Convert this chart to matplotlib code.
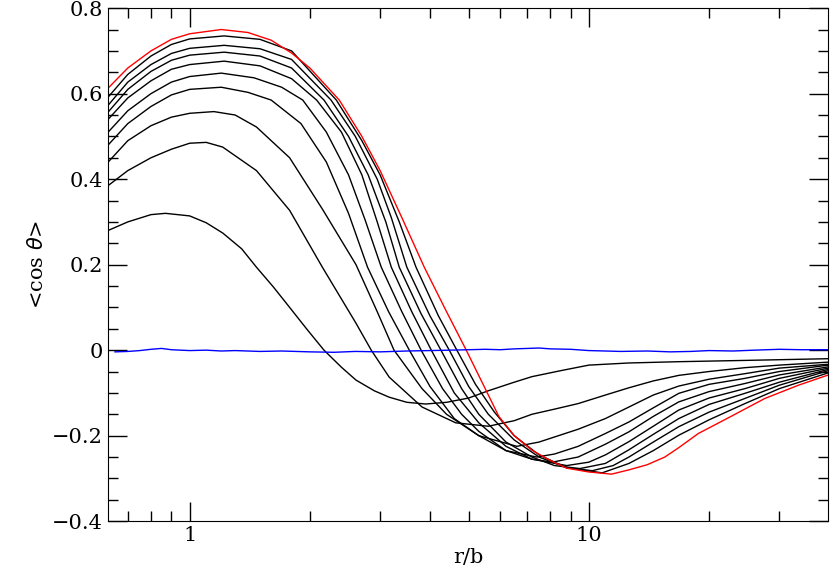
import matplotlib
matplotlib.use("Agg")
import matplotlib.pyplot as plt
from matplotlib.ticker import FixedLocator, MultipleLocator, NullFormatter

c1 = [(0.625, .28), (0.7, .30), (0.8, .317), (0.87, .32), (1, .314), (1.1, .298), (1.21, .274), (1.35, .237), (1.47, .194),
      (1.62, .148), (1.78, .10), (1.97, .048), (2.17, 0), (2.4, -.04), (2.61, -.07), (2.9, -.095), (3.16, -.11), (3.5, -.122),
      (3.9, -.126), (4.4, -.122), (5, -.112), (5.6, -.095), (6.5, -.075), (7.2, -.062), (8.5, -.048), (10, -.035), (12.6, -.03),
      (16.8, -.027), (24.6, -.024), (39.8, -.02)]
c2 = [(0.625, .385), (0.7, .42), (0.8, .45), (0.9, .47), (1, .484), (1.1, .486), (1.21, .475), (1.47, .42), (1.78, .327),
      (2.15, .194), (2.61, .063), (2.85, 0), (3.16, -.063), (3.82, -.133), (4.64, -.17), (5.6, -.178), (6.5, -.165), (7.2, -.15),
      (8.2, -.138), (9.4, -.125), (11, -.105), (12.6, -.088), (14.5, -.072), (16.8, -.059), (20, -.05), (24.6, -.041),
      (30, -.035), (39.8, -.028)]
c3 = [(0.625, .44), (0.7, .49), (0.8, .525), (0.9, .545), (1, .554), (1.15, .558), (1.3, .55), (1.47, .522), (1.78, .45),
      (2.15, .33), (2.61, .2), (2.95, .09), (3.25, 0), (3.82, -.09), (4.4, -.15), (5.3, -.2), (6.6, -.225), (7.5, -.215),
      (9.4, -.185), (11, -.16), (12.6, -.133), (14.5, -.105), (16.8, -.084), (20, -.068), (24.6, -.055), (30, -.042), (39.8, -.033)]
c4 = [(0.625, .48), (0.7, .53), (0.8, .57), (0.9, .597), (1, .61), (1.2, .615), (1.4, .603), (1.6, .585), (1.9, .53),
      (2.2, .44), (2.5, .32), (2.79, .194), (3.15, .09), (3.55, 0), (4, -.085), (4.6, -.16), (5.3, -.2), (6.2, -.235),
      (7.4, -.25), (8.2, -.243), (9.4, -.225), (11, -.195), (12.6, -.168), (14.5, -.135), (16.8, -.101), (20, -.08),
      (24.6, -.066), (30, -.05), (39.8, -.035)]
c5 = [(0.625, .51), (0.7, .56), (0.8, .60), (0.9, .627), (1, .64), (1.2, .648), (1.45, .637), (1.7, .615), (1.92, .585),
      (2.2, .51), (2.5, .41), (2.75, .305), (3.02, .194), (3.4, .09), (3.8, 0), (4.3, -.09), (4.8, -.15), (5.3, -.19),
      (6.2, -.235), (7.2, -.255), (8.1, -.262), (9.4, -.25), (11, -.22), (12.6, -.191), (14.5, -.155), (16.8, -.121),
      (20, -.097), (24.6, -.078), (30, -.058), (39.8, -.039)]
c6 = [(0.625, .54), (0.7, .59), (0.8, .63), (0.9, .657), (1, .668), (1.22, .676), (1.5, .665), (1.8, .635), (2.08, .585),
      (2.4, .51), (2.7, .41), (2.95, .3), (3.2, .194), (3.6, .09), (4.03, 0), (4.6, -.1), (5.3, -.17), (6.2, -.225),
      (7.2, -.255), (8.8, -.27), (10, -.262), (11, -.245), (12.6, -.214), (14.5, -.178), (16.8, -.14), (20, -.112),
      (24.6, -.09), (30, -.066), (39.8, -.042)]
c7 = [(0.625, .557), (0.7, .61), (0.8, .652), (0.9, .678), (1, .69), (1.22, .697), (1.5, .688), (1.8, .66), (2.17, .585),
      (2.5, .5), (2.8, .41), (3.1, .3), (3.35, .194), (3.8, .085), (4.26, 0), (4.8, -.09), (5.3, -.15), (6.2, -.215),
      (7.2, -.25), (8.2, -.27), (9.5, -.277), (11, -.265), (12.6, -.233), (14.5, -.197), (16.8, -.16), (20, -.127),
      (24.6, -.101), (30, -.075), (39.8, -.045)]
c8 = [(0.625, .573), (0.7, .627), (0.8, .668), (0.9, .694), (1, .706), (1.22, .713), (1.5, .705), (1.8, .68), (2.26, .585),
      (2.6, .5), (2.95, .4), (3.2, .31), (3.5, .194), (4, .08), (4.47, 0), (5, -.085), (5.6, -.15), (6.5, -.21), (7.5, -.25),
      (8.8, -.275), (10.2, -.282), (11.5, -.27), (12.6, -.25), (14.5, -.215), (16.8, -.179), (20, -.145), (24.6, -.113),
      (30, -.082), (39.8, -.048)]
c9 = [(0.625, .592), (0.7, .645), (0.8, .688), (0.9, .715), (1, .728), (1.22, .735), (1.5, .727), (1.8, .70), (2.33, .585),
      (2.7, .49), (3.0, .41), (3.35, .3), (3.69, .194), (4.2, .08), (4.67, 0), (5.2, -.08), (5.8, -.145), (6.5, -.2),
      (7.5, -.245), (8.8, -.275), (10.8, -.287), (12.6, -.265), (14.5, -.235), (16.8, -.199), (20, -.163), (24.6, -.125),
      (30, -.09), (39.8, -.053)]
red = [(0.625, .613), (0.7, .66), (0.8, .70), (0.9, .727), (1, .74), (1.2, .75), (1.4, .743), (1.6, .725), (1.8, .695),
       (2.0, .66), (2.37, .585), (2.7, .50), (3.0, .42), (3.4, .31), (3.87, .194), (4.4, .09), (4.93, 0), (5.4, -.075),
       (5.95, -.155), (6.5, -.2), (7.2, -.234), (8, -.258), (8.8, -.276), (10, -.285), (11.4, -.29), (12.6, -.28),
       (14, -.268), (15.5, -.25), (16.8, -.228), (18.8, -.195), (22.7, -.155), (27.6, -.113), (33.5, -.082), (39.8, -.058)]
black_curves = [c1, c2, c3, c4, c5, c6, c7, c8, c9]

bx = [0.65, 0.7, 0.75, 0.8, 0.85, 0.9, 1.0, 1.1, 1.2, 1.3, 1.5, 1.7, 2.0, 2.3, 2.6, 3.0, 3.5, 4.0, 4.5, 5.0,
      5.5, 6.0, 6.5, 7.0, 7.5, 8.0, 9.0, 10, 11, 12, 14, 16, 18, 20, 23, 26, 30, 34, 40]
blue = [-0.004, -0.003, -0.001, 0.002, 0.004, 0.001, -0.001, 0.0, -0.002, -0.001, -0.003, -0.002, -0.004, -0.005, -0.003,
        -0.004, -0.002, -0.001, 0.0, 0.001, 0.002, 0.001, 0.003, 0.004, 0.005, 0.003, 0.002, -0.001, -0.002, -0.003,
        -0.002, -0.004, -0.003, -0.001, -0.002, 0.0, 0.002, 0.001, 0.001]

plt.rcParams['font.family'] = ['DejaVu Serif']
fig = plt.figure(figsize=(8.30, 5.81), dpi=100)
ax = fig.add_axes([0.130, 0.103, 0.868, 0.883])
for c in black_curves:
    ax.plot([p[0] for p in c], [p[1] for p in c], color='black', lw=1.0)
ax.plot([p[0] for p in red], [p[1] for p in red], color='red', lw=1.0)
ax.plot(bx, blue, color='blue', lw=1.0)
ax.set_xscale('log')
ax.set_xlim(0.624, 39.8)
ax.set_ylim(-0.4, 0.8)
ax.xaxis.set_major_locator(FixedLocator([1, 10]))
ax.set_xticklabels(['1', '10'])
ax.xaxis.set_minor_locator(FixedLocator([0.7, 0.8, 0.9, 2, 3, 4, 5, 6, 7, 8, 9, 20, 30]))
ax.xaxis.set_minor_formatter(NullFormatter())
ax.yaxis.set_minor_locator(MultipleLocator(0.05))
ax.set_yticks([-0.4, -0.2, 0, 0.2, 0.4, 0.6, 0.8])
ax.set_yticklabels(['\u22120.4', '\u22120.2', '0', '0.2', '0.4', '0.6', '0.8'])
ax.tick_params(which='both', direction='in', top=True, right=True, labelsize=15)
ax.tick_params(which='major', length=14, width=1)
ax.tick_params(which='minor', length=7, width=1)
ax.set_xlabel('r/b', fontsize=15, labelpad=2)
ax.set_ylabel(r'<cos $\theta$>', fontsize=15)
fig.savefig('out.png', dpi=100)
